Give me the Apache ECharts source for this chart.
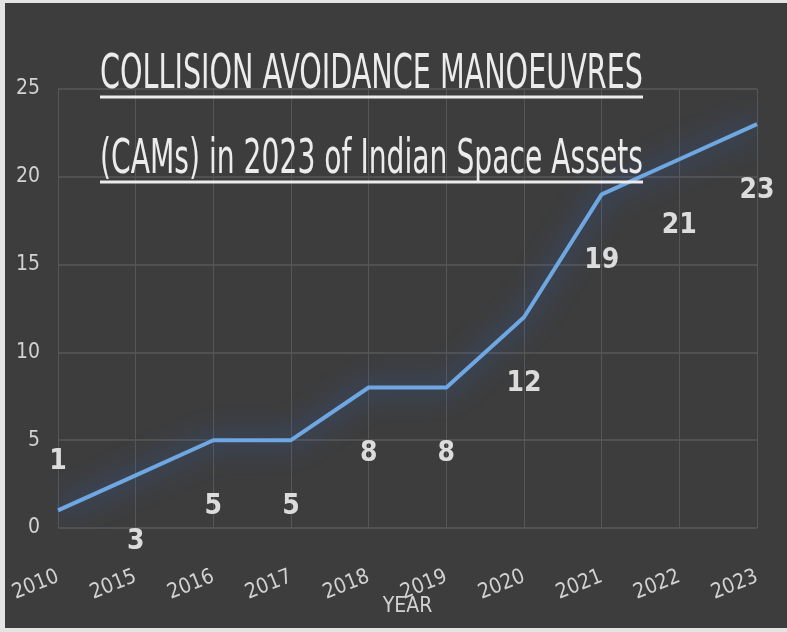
<!DOCTYPE html>
<html>
<head>
<meta charset="utf-8">
<script src="https://cdn.jsdelivr.net/npm/echarts@6/dist/echarts.min.js"></script>
<style>
  html, body { margin: 0; padding: 0; background: #e4e4e4; width: 787px; height: 632px; overflow: hidden; }
  #chart { position: absolute; left: 5px; top: 3px; width: 782px; height: 625px; }
</style>
</head>
<body>
<div id="chart"></div>
<script>
const years = ['2010', '2015', '2016', '2017', '2018', '2019', '2020', '2021', '2022', '2023'];
const cams = [1, 3, 5, 5, 8, 8, 12, 19, 21, 23];
const yTicks = { min: 0, max: 25, interval: 5 };
const titleLines = ['COLLISION AVOIDANCE MANOEUVRES', '(CAMs) in 2023 of Indian Space Assets'];

const FONT = '"Liberation Sans Narrow", "DejaVu Sans Condensed", "Liberation Sans", sans-serif';
const TXT = '#d2d2d2';

const cv = document.createElement('canvas').getContext('2d');
const titleFontSize = 40;
cv.font = titleFontSize + 'px ' + FONT;
const targetW = 543;
const sy = 1.22;

const graphics = [];
titleLines.forEach((t, i) => {
  const w = cv.measureText(t).width;
  const sx = targetW / w;
  const ulY = i === 0 ? 94 : 179;
  graphics.push({
    type: 'text',
    x: 95, y: ulY + 3,
    scaleX: sx, scaleY: sy,
    style: { text: t, font: titleFontSize + 'px ' + FONT, fill: '#ececec', verticalAlign: 'bottom' },
    z: 10
  });
  graphics.push({
    type: 'line',
    shape: { x1: 95, y1: ulY, x2: 95 + targetW, y2: ulY },
    style: { stroke: '#ececec', lineWidth: 3 },
    z: 11
  });
});

const chart = echarts.init(document.getElementById('chart'));
chart.setOption({
  backgroundColor: '#3d3d3d',
  animation: false,
  grid: { left: 53, right: 30, top: 86, bottom: 100, containLabel: false, outerBoundsMode: 'none' },
  graphic: graphics,
  xAxis: {
    type: 'category',
    data: years,
    boundaryGap: false,
    name: 'YEAR',
    nameLocation: 'middle',
    nameGap: 68,
    nameMoveOverlap: false,
    nameTextStyle: { color: TXT, fontSize: 21, fontFamily: FONT },
    axisLine: { show: false },
    axisTick: { show: false },
    splitLine: { show: true, lineStyle: { color: '#565656', width: 1 } },
    axisLabel: { color: TXT, fontSize: 21, fontFamily: FONT, rotate: 22, margin: 48, hideOverlap: false }
  },
  yAxis: {
    type: 'value',
    min: yTicks.min, max: yTicks.max, interval: yTicks.interval,
    axisLine: { show: false },
    axisTick: { show: false },
    splitLine: { lineStyle: { color: '#585858', width: 1.5 } },
    axisLabel: { color: TXT, fontSize: 21, fontFamily: FONT, margin: 18 }
  },
  series: [{
    type: 'line',
    data: cams.map((v, i) => i === 0
      ? { value: v, label: { position: 'top', distance: 34 } }
      : v),
    symbol: 'circle',
    symbolSize: 1,
    showSymbol: true,
    itemStyle: { color: 'rgba(0,0,0,0)' },
    lineStyle: { color: '#6ea7e2', width: 4, shadowColor: 'rgba(50,110,220,0.95)', shadowBlur: 28 },
    label: {
      show: true,
      position: 'bottom',
      distance: 52,
      color: '#dcdcdc',
      fontSize: 28,
      fontWeight: 'bold',
      fontFamily: FONT
    }
  }]
});
</script>
</body>
</html>
